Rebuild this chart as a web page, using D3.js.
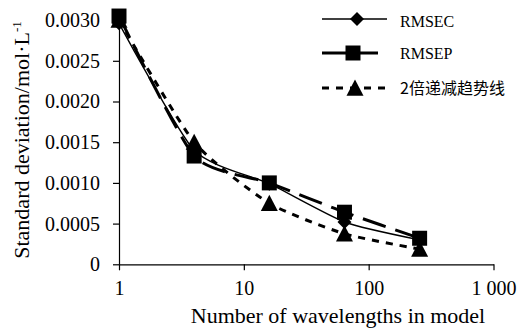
<!DOCTYPE html>
<html><head><meta charset="utf-8">
<script src="https://cdn.jsdelivr.net/npm/d3@7"></script>
<style>
html,body{margin:0;padding:0;background:#fff;}
svg{display:block;}
</style>
</head><body>
<svg id="chart" width="520" height="333"></svg>
<script>
const wavelengths = [1, 4, 16, 64, 256];
const rmsec = [0.00296, 0.00140, 0.00099, 0.00052, 0.00030];
const rmsep = [0.00305, 0.00133, 0.00100, 0.00064, 0.00032];
const trend = [0.003, 0.0015, 0.00075, 0.000375, 0.0001875];
const yTicks = [0, 0.0005, 0.0010, 0.0015, 0.0020, 0.0025, 0.0030];
const yTickLabels = ["0", "0.0005", "0.0010", "0.0015", "0.0020", "0.0025", "0.0030"];
const xTicks = [1, 10, 100, 1000];
const xTickLabels = ["1", "10", "100", "1 000"];
const seriesNames = ["RMSEC", "RMSEP", "2倍递减趋势线"];

const SERIF = '"Liberation Serif"';
const CJK = '"Noto Sans CJK SC"';
const svg = d3.select("#chart");

const x = d3.scaleLog().domain([1, 1000]).range([119, 493.5]);
const y = d3.scaleLinear().domain([0, 0.003]).range([264.3, 20.1]);

// axes
const yAxis = d3.axisLeft(y).tickValues(yTicks)
  .tickFormat((d, i) => yTickLabels[i]).tickSize(6).tickPadding(13).tickSizeOuter(0);
const gy = svg.append("g").attr("transform", `translate(${x(1)},0)`).call(yAxis);
const xAxis = d3.axisBottom(x).tickValues(xTicks)
  .tickFormat((d, i) => xTickLabels[i]).tickSize(6).tickPadding(11).tickSizeOuter(0);
const gx = svg.append("g").attr("transform", `translate(0,${y(0)})`).call(xAxis);
[gx, gy].forEach(g => {
  g.selectAll("path,line").attr("stroke", "#000").attr("stroke-width", 1.2);
  g.selectAll("text").style("font-family", SERIF).style("font-size", "20px").attr("fill", "#000");
});

// marker shapes
function diamond(s) { return `M0,${-s}L${s},0L0,${s}L${-s},0Z`; }
function square(s) { return `M${-s},${-s}H${s}V${s}H${-s}Z`; }
function triangle(s) { return `M0,${-s}L${s},${s*0.9}H${-s}Z`; }

const series = [
  {vals: rmsec, width: 1.4, dash: null, shape: diamond(7)},
  {vals: rmsep, width: 3, dash: "24,10", shape: square(7.5)},
  {vals: trend, width: 3, dash: "7,7", shape: triangle(8.5)}
];

const line = d3.line().x(d => x(d[0])).y(d => y(d[1])).curve(d3.curveCardinal.tension(0.4));

series.forEach(s => {
  const pts = wavelengths.map((w, i) => [w, s.vals[i]]);
  svg.append("path").attr("d", line(pts)).attr("fill", "none")
    .attr("stroke", "#000").attr("stroke-width", s.width)
    .attr("stroke-dasharray", s.dash);
  svg.append("g").selectAll("path").data(pts).join("path")
    .attr("transform", d => `translate(${x(d[0])},${y(d[1])})`)
    .attr("d", s.shape).attr("fill", "#000");
});

// legend
const legY = [19, 53, 88];
const legBase = [26.5, 58.5, 93.5];
series.forEach((s, i) => {
  const g = svg.append("g");
  g.append("line").attr("x1", 322).attr("x2", i === 1 ? 378 : 387)
    .attr("y1", legY[i]).attr("y2", legY[i])
    .attr("stroke", "#000").attr("stroke-width", s.width)
    .attr("stroke-dasharray", s.dash);
  g.append("path").attr("transform", `translate(${[357, 353, 355][i]},${legY[i]})`)
    .attr("d", s.shape).attr("fill", "#000");
  g.append("text").attr("x", 400).attr("y", legBase[i])
    .style("font-family", i === 2 ? CJK : SERIF)
    .style("font-size", "16px").attr("fill", "#000").text(seriesNames[i]);
});

// axis titles
svg.append("text").attr("x", 338).attr("y", 323).attr("text-anchor", "middle")
  .style("font-family", SERIF).style("font-size", "22px").attr("fill", "#000")
  .text("Number of wavelengths in model");

const yt = svg.append("text").attr("transform", "translate(29,140) rotate(-90)")
  .attr("text-anchor", "middle").style("font-family", SERIF).style("font-size", "22px").attr("fill", "#000");
yt.append("tspan").text("Standard deviation/mol·L");
yt.append("tspan").attr("dy", -8).style("font-size", "13px").text("-1");
</script>
</body></html>
